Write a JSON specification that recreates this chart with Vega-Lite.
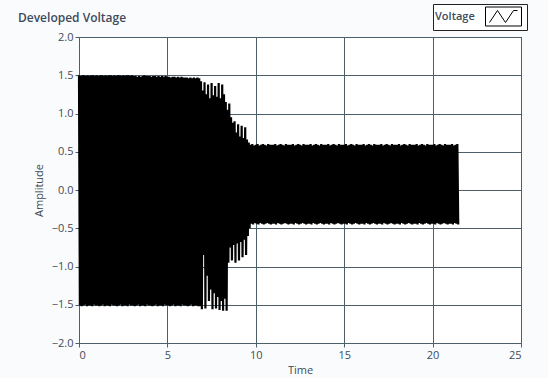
{
  "$schema": "https://vega.github.io/schema/vega-lite/v6.json",
  "autosize": {"type": "none"},
  "width": 442,
  "height": 306,
  "padding": {"left": 79, "top": 37, "right": 27, "bottom": 35},
  "background": "#fafbfc",
  "title": {"text": "Developed Voltage", "anchor": "start", "frame": "group", "dx": -61, "offset": -21, "font": "Open Sans", "fontSize": 12, "fontWeight": 600, "color": "#3d4b5c"},
  "config": {
    "view": {"stroke": "#4d5f6b", "strokeWidth": 1, "fill": "white"},
    "axis": {"domainColor": "#4d5f6b", "gridColor": "#4d5f6b", "tickColor": "#4d5f6b", "gridOpacity": 1, "gridWidth": 1, "labelColor": "#3d4b58", "titleColor": "#3d4b58", "labelFont": "Open Sans", "titleFont": "Open Sans", "labelFontSize": 11, "titleFontSize": 11, "titleFontWeight": "normal", "tickSize": 4, "labelPadding": 2}
  },
  "data": {"values": [
{"t":0,"v":1.5},{"t":0.05,"v":-1.51},{"t":0.1,"v":1.49},{"t":0.15,"v":-1.52},{"t":0.2,"v":1.5},{"t":0.25,"v":-1.51},{"t":0.3,"v":1.5},{"t":0.35,"v":-1.5},{"t":0.4,"v":1.49},{"t":0.45,"v":-1.52},{"t":0.5,"v":1.5},{"t":0.55,"v":-1.51},{"t":0.6,"v":1.49},{"t":0.65,"v":-1.51},{"t":0.7,"v":1.5},{"t":0.75,"v":-1.52},{"t":0.8,"v":1.5},{"t":0.85,"v":-1.5},{"t":0.9,"v":1.49},{"t":0.95,"v":-1.51},
{"t":1,"v":1.5},{"t":1.05,"v":-1.51},{"t":1.1,"v":1.49},{"t":1.15,"v":-1.52},{"t":1.2,"v":1.5},{"t":1.25,"v":-1.51},{"t":1.3,"v":1.5},{"t":1.35,"v":-1.5},{"t":1.4,"v":1.49},{"t":1.45,"v":-1.52},{"t":1.5,"v":1.5},{"t":1.55,"v":-1.51},{"t":1.6,"v":1.49},{"t":1.65,"v":-1.51},{"t":1.7,"v":1.5},{"t":1.75,"v":-1.52},{"t":1.8,"v":1.5},{"t":1.85,"v":-1.5},{"t":1.9,"v":1.49},{"t":1.95,"v":-1.51},
{"t":2,"v":1.5},{"t":2.05,"v":-1.51},{"t":2.1,"v":1.49},{"t":2.15,"v":-1.52},{"t":2.2,"v":1.5},{"t":2.25,"v":-1.51},{"t":2.3,"v":1.5},{"t":2.35,"v":-1.5},{"t":2.4,"v":1.49},{"t":2.45,"v":-1.52},{"t":2.5,"v":1.5},{"t":2.55,"v":-1.51},{"t":2.6,"v":1.49},{"t":2.65,"v":-1.51},{"t":2.7,"v":1.5},{"t":2.75,"v":-1.52},{"t":2.8,"v":1.5},{"t":2.85,"v":-1.5},{"t":2.9,"v":1.49},{"t":2.95,"v":-1.51},
{"t":3,"v":1.5},{"t":3.05,"v":-1.51},{"t":3.1,"v":1.49},{"t":3.15,"v":-1.52},{"t":3.2,"v":1.49},{"t":3.25,"v":-1.51},{"t":3.3,"v":1.48},{"t":3.35,"v":-1.5},{"t":3.4,"v":1.49},{"t":3.45,"v":-1.52},{"t":3.5,"v":1.48},{"t":3.55,"v":-1.51},{"t":3.6,"v":1.49},{"t":3.65,"v":-1.51},{"t":3.7,"v":1.5},{"t":3.75,"v":-1.52},{"t":3.8,"v":1.49},{"t":3.85,"v":-1.5},{"t":3.9,"v":1.49},{"t":3.95,"v":-1.51},
{"t":4,"v":1.49},{"t":4.05,"v":-1.51},{"t":4.1,"v":1.48},{"t":4.15,"v":-1.52},{"t":4.2,"v":1.49},{"t":4.25,"v":-1.51},{"t":4.3,"v":1.49},{"t":4.35,"v":-1.5},{"t":4.4,"v":1.48},{"t":4.45,"v":-1.52},{"t":4.5,"v":1.49},{"t":4.55,"v":-1.51},{"t":4.6,"v":1.48},{"t":4.65,"v":-1.51},{"t":4.7,"v":1.49},{"t":4.75,"v":-1.52},{"t":4.8,"v":1.48},{"t":4.85,"v":-1.5},{"t":4.9,"v":1.49},{"t":4.95,"v":-1.51},
{"t":5,"v":1.48},{"t":5.05,"v":-1.51},{"t":5.1,"v":1.48},{"t":5.15,"v":-1.52},{"t":5.2,"v":1.47},{"t":5.25,"v":-1.51},{"t":5.3,"v":1.48},{"t":5.35,"v":-1.5},{"t":5.4,"v":1.48},{"t":5.45,"v":-1.52},{"t":5.5,"v":1.47},{"t":5.55,"v":-1.51},{"t":5.6,"v":1.48},{"t":5.65,"v":-1.51},{"t":5.7,"v":1.47},{"t":5.75,"v":-1.52},{"t":5.8,"v":1.48},{"t":5.85,"v":-1.5},{"t":5.9,"v":1.47},{"t":5.95,"v":-1.51},
{"t":6,"v":1.47},{"t":6.05,"v":-1.51},{"t":6.1,"v":1.47},{"t":6.15,"v":-1.52},{"t":6.2,"v":1.46},{"t":6.25,"v":-1.51},{"t":6.3,"v":1.47},{"t":6.35,"v":-1.5},{"t":6.4,"v":1.46},{"t":6.45,"v":-1.52},{"t":6.5,"v":1.47},{"t":6.55,"v":-1.51},{"t":6.6,"v":1.46},{"t":6.65,"v":-1.51},{"t":6.7,"v":1.47},{"t":6.75,"v":-1.52},
{"t":6.8,"v":1.46},{"t":6.85,"v":-1.52},{"t":6.9,"v":1.42},{"t":6.95,"v":-1.56},{"t":7,"v":1.3},{"t":7.05,"v":-0.85},{"t":7.1,"v":1.41},{"t":7.15,"v":-1.55},{"t":7.2,"v":1.25},{"t":7.25,"v":-1.12},{"t":7.3,"v":1.38},{"t":7.35,"v":-1.45},{"t":7.4,"v":1.2},{"t":7.45,"v":-1.3},{"t":7.5,"v":1.4},{"t":7.55,"v":-1.56},{"t":7.6,"v":1.24},{"t":7.65,"v":-1.35},{"t":7.7,"v":1.36},{"t":7.75,"v":-1.55},{"t":7.8,"v":1.22},{"t":7.85,"v":-1.4},{"t":7.9,"v":1.4},{"t":7.95,"v":-1.57},{"t":8,"v":1.2},{"t":8.05,"v":-1.45},{"t":8.1,"v":1.38},{"t":8.15,"v":-1.58},{"t":8.2,"v":1.25},{"t":8.25,"v":-1.42},{"t":8.3,"v":1.15},{"t":8.35,"v":-1.58},{"t":8.4,"v":1.05},{"t":8.45,"v":-0.95},{"t":8.5,"v":1.13},{"t":8.55,"v":-0.75},{"t":8.6,"v":0.95},{"t":8.65,"v":-0.92},{"t":8.7,"v":0.88},{"t":8.75,"v":-0.72},{"t":8.8,"v":0.9},{"t":8.85,"v":-0.95},{"t":8.9,"v":0.75},{"t":8.95,"v":-0.7},{"t":9,"v":0.86},{"t":9.05,"v":-0.92},{"t":9.1,"v":0.7},{"t":9.15,"v":-0.68},{"t":9.2,"v":0.84},{"t":9.25,"v":-0.88},{"t":9.3,"v":0.68},{"t":9.35,"v":-0.65},{"t":9.4,"v":0.82},{"t":9.45,"v":-0.85},{"t":9.5,"v":0.66},{"t":9.55,"v":-0.6},{"t":9.6,"v":0.62},{"t":9.65,"v":-0.5},
{"t":9.7,"v":0.59},{"t":9.75,"v":-0.44},{"t":9.8,"v":0.6},{"t":9.85,"v":-0.45},{"t":9.9,"v":0.58},{"t":9.95,"v":-0.43},
{"t":10,"v":0.59},{"t":10.05,"v":-0.44},{"t":10.1,"v":0.6},{"t":10.15,"v":-0.45},{"t":10.2,"v":0.58},{"t":10.25,"v":-0.43},{"t":10.3,"v":0.59},{"t":10.35,"v":-0.44},{"t":10.4,"v":0.6},{"t":10.45,"v":-0.45},{"t":10.5,"v":0.59},{"t":10.55,"v":-0.44},{"t":10.6,"v":0.58},{"t":10.65,"v":-0.43},{"t":10.7,"v":0.6},{"t":10.75,"v":-0.44},{"t":10.8,"v":0.59},{"t":10.85,"v":-0.45},{"t":10.9,"v":0.59},{"t":10.95,"v":-0.44},
{"t":11,"v":0.59},{"t":11.05,"v":-0.44},{"t":11.1,"v":0.6},{"t":11.15,"v":-0.45},{"t":11.2,"v":0.58},{"t":11.25,"v":-0.43},{"t":11.3,"v":0.59},{"t":11.35,"v":-0.44},{"t":11.4,"v":0.6},{"t":11.45,"v":-0.45},{"t":11.5,"v":0.59},{"t":11.55,"v":-0.44},{"t":11.6,"v":0.58},{"t":11.65,"v":-0.43},{"t":11.7,"v":0.6},{"t":11.75,"v":-0.44},{"t":11.8,"v":0.59},{"t":11.85,"v":-0.45},{"t":11.9,"v":0.59},{"t":11.95,"v":-0.44},
{"t":12,"v":0.59},{"t":12.05,"v":-0.44},{"t":12.1,"v":0.6},{"t":12.15,"v":-0.45},{"t":12.2,"v":0.58},{"t":12.25,"v":-0.43},{"t":12.3,"v":0.59},{"t":12.35,"v":-0.44},{"t":12.4,"v":0.6},{"t":12.45,"v":-0.45},{"t":12.5,"v":0.59},{"t":12.55,"v":-0.44},{"t":12.6,"v":0.58},{"t":12.65,"v":-0.43},{"t":12.7,"v":0.6},{"t":12.75,"v":-0.44},{"t":12.8,"v":0.59},{"t":12.85,"v":-0.45},{"t":12.9,"v":0.59},{"t":12.95,"v":-0.44},
{"t":13,"v":0.59},{"t":13.05,"v":-0.44},{"t":13.1,"v":0.6},{"t":13.15,"v":-0.45},{"t":13.2,"v":0.58},{"t":13.25,"v":-0.43},{"t":13.3,"v":0.59},{"t":13.35,"v":-0.44},{"t":13.4,"v":0.6},{"t":13.45,"v":-0.45},{"t":13.5,"v":0.59},{"t":13.55,"v":-0.44},{"t":13.6,"v":0.58},{"t":13.65,"v":-0.43},{"t":13.7,"v":0.6},{"t":13.75,"v":-0.44},{"t":13.8,"v":0.59},{"t":13.85,"v":-0.45},{"t":13.9,"v":0.59},{"t":13.95,"v":-0.44},
{"t":14,"v":0.59},{"t":14.05,"v":-0.44},{"t":14.1,"v":0.6},{"t":14.15,"v":-0.45},{"t":14.2,"v":0.58},{"t":14.25,"v":-0.43},{"t":14.3,"v":0.59},{"t":14.35,"v":-0.44},{"t":14.4,"v":0.6},{"t":14.45,"v":-0.45},{"t":14.5,"v":0.59},{"t":14.55,"v":-0.44},{"t":14.6,"v":0.58},{"t":14.65,"v":-0.43},{"t":14.7,"v":0.6},{"t":14.75,"v":-0.44},{"t":14.8,"v":0.59},{"t":14.85,"v":-0.45},{"t":14.9,"v":0.59},{"t":14.95,"v":-0.44},
{"t":15,"v":0.59},{"t":15.05,"v":-0.44},{"t":15.1,"v":0.6},{"t":15.15,"v":-0.45},{"t":15.2,"v":0.58},{"t":15.25,"v":-0.43},{"t":15.3,"v":0.59},{"t":15.35,"v":-0.44},{"t":15.4,"v":0.6},{"t":15.45,"v":-0.45},{"t":15.5,"v":0.59},{"t":15.55,"v":-0.44},{"t":15.6,"v":0.58},{"t":15.65,"v":-0.43},{"t":15.7,"v":0.6},{"t":15.75,"v":-0.44},{"t":15.8,"v":0.59},{"t":15.85,"v":-0.45},{"t":15.9,"v":0.59},{"t":15.95,"v":-0.44},
{"t":16,"v":0.59},{"t":16.05,"v":-0.44},{"t":16.1,"v":0.6},{"t":16.15,"v":-0.45},{"t":16.2,"v":0.58},{"t":16.25,"v":-0.43},{"t":16.3,"v":0.59},{"t":16.35,"v":-0.44},{"t":16.4,"v":0.6},{"t":16.45,"v":-0.45},{"t":16.5,"v":0.59},{"t":16.55,"v":-0.44},{"t":16.6,"v":0.58},{"t":16.65,"v":-0.43},{"t":16.7,"v":0.6},{"t":16.75,"v":-0.44},{"t":16.8,"v":0.59},{"t":16.85,"v":-0.45},{"t":16.9,"v":0.59},{"t":16.95,"v":-0.44},
{"t":17,"v":0.59},{"t":17.05,"v":-0.44},{"t":17.1,"v":0.6},{"t":17.15,"v":-0.45},{"t":17.2,"v":0.58},{"t":17.25,"v":-0.43},{"t":17.3,"v":0.59},{"t":17.35,"v":-0.44},{"t":17.4,"v":0.6},{"t":17.45,"v":-0.45},{"t":17.5,"v":0.59},{"t":17.55,"v":-0.44},{"t":17.6,"v":0.58},{"t":17.65,"v":-0.43},{"t":17.7,"v":0.6},{"t":17.75,"v":-0.44},{"t":17.8,"v":0.59},{"t":17.85,"v":-0.45},{"t":17.9,"v":0.59},{"t":17.95,"v":-0.44},
{"t":18,"v":0.59},{"t":18.05,"v":-0.44},{"t":18.1,"v":0.6},{"t":18.15,"v":-0.45},{"t":18.2,"v":0.58},{"t":18.25,"v":-0.43},{"t":18.3,"v":0.59},{"t":18.35,"v":-0.44},{"t":18.4,"v":0.6},{"t":18.45,"v":-0.45},{"t":18.5,"v":0.59},{"t":18.55,"v":-0.44},{"t":18.6,"v":0.58},{"t":18.65,"v":-0.43},{"t":18.7,"v":0.6},{"t":18.75,"v":-0.44},{"t":18.8,"v":0.59},{"t":18.85,"v":-0.45},{"t":18.9,"v":0.59},{"t":18.95,"v":-0.44},
{"t":19,"v":0.59},{"t":19.05,"v":-0.44},{"t":19.1,"v":0.6},{"t":19.15,"v":-0.45},{"t":19.2,"v":0.58},{"t":19.25,"v":-0.43},{"t":19.3,"v":0.59},{"t":19.35,"v":-0.44},{"t":19.4,"v":0.6},{"t":19.45,"v":-0.45},{"t":19.5,"v":0.59},{"t":19.55,"v":-0.44},{"t":19.6,"v":0.58},{"t":19.65,"v":-0.43},{"t":19.7,"v":0.6},{"t":19.75,"v":-0.44},{"t":19.8,"v":0.59},{"t":19.85,"v":-0.45},{"t":19.9,"v":0.59},{"t":19.95,"v":-0.44},
{"t":20,"v":0.59},{"t":20.05,"v":-0.44},{"t":20.1,"v":0.6},{"t":20.15,"v":-0.45},{"t":20.2,"v":0.58},{"t":20.25,"v":-0.43},{"t":20.3,"v":0.59},{"t":20.35,"v":-0.44},{"t":20.4,"v":0.6},{"t":20.45,"v":-0.45},{"t":20.5,"v":0.59},{"t":20.55,"v":-0.44},{"t":20.6,"v":0.58},{"t":20.65,"v":-0.43},{"t":20.7,"v":0.6},{"t":20.75,"v":-0.44},{"t":20.8,"v":0.59},{"t":20.85,"v":-0.45},{"t":20.9,"v":0.59},{"t":20.95,"v":-0.44},
{"t":21,"v":0.59},{"t":21.05,"v":-0.44},{"t":21.1,"v":0.6},{"t":21.15,"v":-0.45},{"t":21.2,"v":0.58},{"t":21.25,"v":-0.43},{"t":21.3,"v":0.59},{"t":21.35,"v":-0.44},{"t":21.4,"v":0.6},{"t":21.45,"v":-0.45}
  ]},
  "mark": {"type": "line", "strokeWidth": 2.2, "interpolate": "linear", "strokeJoin": "bevel"},
  "encoding": {
    "x": {"field": "t", "type": "quantitative", "scale": {"domain": [0, 25], "nice": false, "zero": false}, "axis": {"title": "Time", "values": [0, 5, 10, 15, 20, 25], "grid": true}},
    "y": {"field": "v", "type": "quantitative", "scale": {"domain": [-2, 2], "nice": false}, "axis": {"title": "Amplitude", "titlePadding": 7, "values": [-2, -1.5, -1, -0.5, 0, 0.5, 1, 1.5, 2], "format": ".1f", "grid": true}},
    "color": {"datum": "Voltage", "type": "nominal", "scale": {"range": ["black"]}, "legend": {"orient": "none", "legendX": 354, "legendY": -33, "title": "Voltage", "titleOrient": "left", "titleFont": "Open Sans", "titleFontSize": 11, "titleFontWeight": 600, "titleColor": "#3d4b5c", "titlePadding": 10, "labelExpr": "''", "labelOffset": 19, "symbolType": "M-1,-0.95H2.6V0.95H-1Z M-0.6,0.6L0.2,-0.6L1,0.6L1.8,-0.6L2.2,-0.6", "symbolSize": 400, "symbolStrokeWidth": 1, "strokeColor": "#222", "padding": 2, "fillColor": "white"}}
  }
}
